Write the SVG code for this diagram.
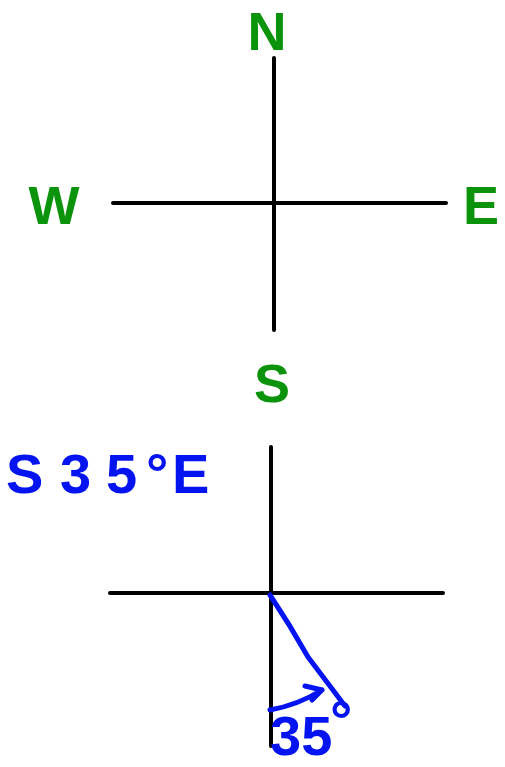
<svg xmlns="http://www.w3.org/2000/svg" width="505" height="767" viewBox="0 0 505 767">
<style>
.ax{stroke:#000;stroke-width:4;stroke-linecap:round;fill:none}
.g{fill:#0b940b;font-family:"Liberation Sans",Arial,sans-serif;font-size:54px;font-weight:bold;text-anchor:middle}
.b{fill:#0414f0;font-family:"Liberation Sans",Arial,sans-serif;font-size:56px;font-weight:bold}
.bl{stroke:#0414f0;stroke-width:5;stroke-linecap:round;stroke-linejoin:round;fill:none}
</style>
<rect width="505" height="767" fill="#fff"/>
<g id="compass">
<line class="ax" x1="274" y1="58" x2="274" y2="330"/>
<line class="ax" x1="113" y1="203" x2="446" y2="203"/>
<text class="g" x="267" y="50">N</text>
<text class="g" x="54" y="224">W</text>
<text class="g" x="481" y="224">E</text>
<text class="g" x="272" y="402">S</text>
</g>
<g id="bearing">
<text class="b" x="6 60 106 146 172" y="493">S35°E</text>
<line class="ax" x1="271" y1="447" x2="271" y2="746"/>
<line class="ax" x1="110" y1="593" x2="443" y2="593"/>
<path class="bl" d="M270 595 Q290 625 308 657 L345 706"/>
<path class="bl" d="M270 710 Q298 705 322 690 M305 686 L322 690 L312 700"/>
<text class="b" font-size="44"><tspan x="270" y="755">35</tspan><tspan x="330" y="740">°</tspan></text>
</g>
</svg>
